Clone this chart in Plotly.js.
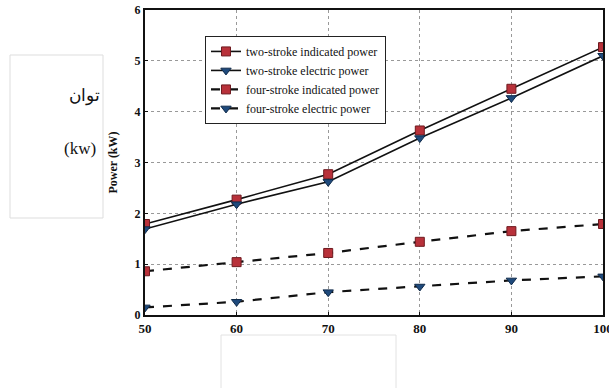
<!DOCTYPE html>
<html>
<head>
<meta charset="utf-8">
<script src="https://cdn.plot.ly/plotly-3.0.1.min.js"></script>
<style>html,body{margin:0;padding:0;background:#fff;}#chart{width:609px;height:388px;}</style>
</head>
<body>
<div id="chart"></div>
<script>
const speeds = [50, 60, 70, 80, 90, 100];
const twoStrokeIndicated = [1.79, 2.27, 2.77, 3.63, 4.45, 5.27];
const twoStrokeElectric = [1.69, 2.18, 2.62, 3.48, 4.27, 5.10];
const fourStrokeIndicated = [0.86, 1.04, 1.22, 1.44, 1.65, 1.79];
const fourStrokeElectric = [0.15, 0.26, 0.45, 0.56, 0.68, 0.76];
const seriesNames = ["two-stroke indicated power", "two-stroke electric power", "four-stroke indicated power", "four-stroke electric power"];
const yTicks = [0, 1, 2, 3, 4, 5, 6];

const red = '#b8313a', redEdge = '#6e1a1f';
const blue = '#1f4a7c', blueEdge = '#0f2a4a';
const serif = 'Liberation Serif';

function tr(y, name, sym, col, edge, dash) {
  return {
    x: speeds, y: y, name: name, type: 'scatter', mode: 'lines+markers',
    line: {color: '#111', width: dash === 'solid' ? 1.6 : 2.2, dash: dash},
    marker: {symbol: sym, size: 9, color: col, line: {color: edge, width: 1}}
  };
}
const data = [
  tr(twoStrokeIndicated, seriesNames[0], 'square', red, redEdge, 'solid'),
  tr(twoStrokeElectric, seriesNames[1], 'triangle-down', blue, blueEdge, 'solid'),
  tr(fourStrokeIndicated, seriesNames[2], 'square', red, redEdge, 'dash'),
  tr(fourStrokeElectric, seriesNames[3], 'triangle-down', blue, blueEdge, 'dash')
];

const layout = {
  width: 609, height: 388,
  margin: {l: 145, r: 6, t: 10, b: 73},
  paper_bgcolor: '#fff', plot_bgcolor: '#fff',
  showlegend: true,
  legend: {x: 0.131, y: 0.915, xanchor: 'left', yanchor: 'top', bgcolor: '#fff',
    bordercolor: '#222', borderwidth: 1, font: {family: serif, size: 12, color: '#111'},
    tracegroupgap: 0, itemwidth: 30},
  xaxis: {range: [50, 100], tickvals: speeds, showgrid: true, gridcolor: '#999', griddash: 'dot',
    zeroline: false, showline: true, linecolor: '#111', linewidth: 2, mirror: true,
    ticks: 'inside', ticklen: 3, tickcolor: '#111', ticklabeloverflow: 'allow',
    tickfont: {family: serif, size: 13, color: '#111', weight: 'bold'}},
  yaxis: {range: [0, 6], tickvals: yTicks, showgrid: true, gridcolor: '#999', griddash: 'dot',
    zeroline: false, showline: true, linecolor: '#111', linewidth: 2, mirror: true,
    ticks: 'inside', ticklen: 3, tickcolor: '#111',
    tickfont: {family: serif, size: 12, color: '#111', weight: 'bold'},
    title: {text: 'Power (kW)', standoff: 14, font: {family: serif, size: 12, color: '#111', weight: 'bold'}}},
  shapes: [
    {type: 'rect', xref: 'paper', yref: 'paper', layer: 'above',
      x0: (10 - 145) / 458, x1: (103 - 145) / 458, y0: (315 - 218) / 305, y1: (315 - 55) / 305,
      line: {color: '#ddd', width: 1}, fillcolor: '#fff'},
    {type: 'rect', xref: 'paper', yref: 'paper', layer: 'above',
      x0: (221 - 145) / 458, x1: (396 - 145) / 458, y0: (315 - 400) / 305, y1: (315 - 335) / 305,
      line: {color: '#e2e2e2', width: 1}, fillcolor: '#fff'}
  ],
  annotations: [
    {xref: 'paper', yref: 'paper', x: (67 - 145) / 458, y: (315 - 84) / 305, text: 'توان',
      showarrow: false, font: {family: serif, size: 17, color: '#111'}},
    {xref: 'paper', yref: 'paper', x: (62 - 145) / 458, y: (315 - 148) / 305, text: '(kw)',
      showarrow: false, font: {family: serif, size: 17, color: '#111'}}
  ]
};
Plotly.newPlot('chart', data, layout, {displayModeBar: false, staticPlot: true});
</script>
</body>
</html>
